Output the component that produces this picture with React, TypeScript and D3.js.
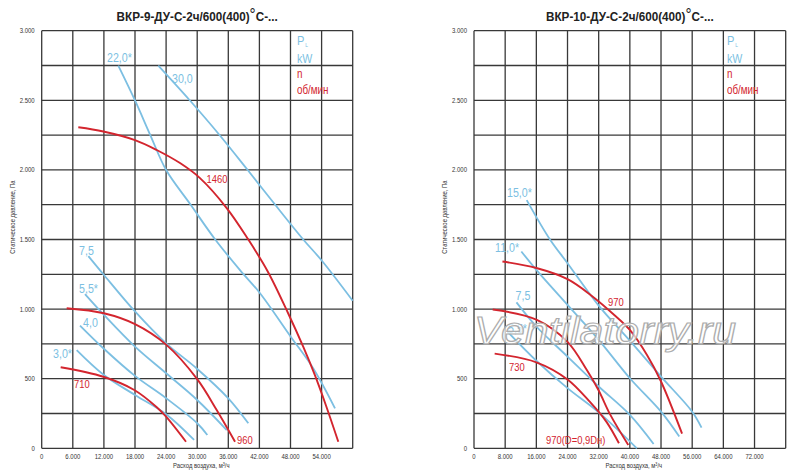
import React from 'react';
import * as d3 from 'd3';

type Pt = [number, number];

// ---------- shared axis data ----------
const yTicks = [0, 500, 1000, 1500, 2000, 2500, 3000];
const yGridStep = 250;
const yMax = 3000;

// ---------- left chart: ВКР-9 ----------
const leftTitle = 'ВКР-9-ДУ-С-2ч/600(400)';
const leftXMax = 60000;
const leftXTicks = [0, 6000, 12000, 18000, 24000, 30000, 36000, 42000, 48000, 54000];
const leftXGridStep = 6000;

const leftP22: Pt[] = [[14779, 2749], [18000, 2499], [20991, 2247], [23981, 2001], [28708, 1751], [33435, 1502], [38258, 1280], [42117, 1114], [48040, 802], [52343, 577], [56587, 287]];
const leftP30: Pt[] = [[22496, 2749], [28515, 2502], [34303, 2251], [39705, 2001], [45010, 1751], [50413, 1502], [54020, 1349], [60000, 1060]];
const leftP75: Pt[] = [[9000, 1381], [12020, 1245], [18000, 983], [24000, 754], [30020, 570], [36000, 359], [39860, 180]];
const leftP55: Pt[] = [[8350, 1108], [12020, 958], [18000, 730], [24000, 539], [30000, 347], [35700, 131]];
const leftP40: Pt[] = [[7390, 882], [12000, 715], [18000, 520], [24000, 360], [30000, 180], [31950, 96]];
const leftP30s: Pt[] = [[6750, 706], [12000, 527], [18000, 383], [24000, 245], [29400, 60]];
const leftN1460: Pt[] = [[7061, 2306], [11885, 2276], [18000, 2214], [22187, 2143], [26682, 2049], [30541, 1941], [35692, 1726], [39802, 1503], [43660, 1267], [47519, 972], [50471, 728], [52688, 527], [54810, 311], [57222, 47]];
const leftN960: Pt[] = [[4820, 1006], [12000, 970], [18000, 892], [24000, 745], [30000, 497], [33760, 275], [37300, 47]];
const leftN710: Pt[] = [[3660, 582], [11880, 514], [17865, 419], [22200, 295], [24000, 227], [27840, 47]];

const leftBlue = [leftP22, leftP30, leftP75, leftP55, leftP40, leftP30s];
const leftRed = [leftN1460, leftN960, leftN710];

const leftBlueLabels = ['22,0*', '30,0', '7,5', '5,5*', '4,0', '3,0*'];
const leftBlueLabelAt: Pt[] = [[12600, 2775], [25140, 2625], [7200, 1389], [7200, 1118], [7970, 871], [2180, 649]];
const leftRedLabels = ['1460', '960', '710'];
const leftRedLabelAt: Pt[] = [[31800, 1906], [37680, 31], [6230, 433]];

// ---------- right chart: ВКР-10 ----------
const rightTitle = 'ВКР-10-ДУ-С-2ч/600(400)';
const rightXMax = 80000;
const rightXTicks = [0, 8000, 16000, 24000, 32000, 40000, 48000, 56000, 64000, 72000];
const rightXGridStep = 8000;

const rightP15: Pt[] = [[13530, 1783], [19500, 1500], [24000, 1330], [32000, 1025], [40000, 773], [48000, 515], [56000, 263], [58400, 148]];
const rightP11: Pt[] = [[12150, 1414], [16000, 1282], [24000, 1030], [32000, 779], [40000, 503], [48000, 263], [52680, 84]];
const rightP75: Pt[] = [[10900, 1048], [16000, 875], [24000, 659], [32000, 444], [40000, 240], [46100, 31]];
const rightP55: Pt[] = [[8600, 838], [16000, 629], [24000, 432], [32000, 258], [41800, 0]];
const rightN970: Pt[] = [[7300, 1342], [16000, 1295], [24000, 1215], [30000, 1100], [36000, 958], [40000, 850], [44400, 670], [48000, 480], [53400, 105]];
const rightN970D: Pt[] = [[4800, 997], [16000, 925], [24000, 765], [29000, 560], [32000, 415], [35000, 240], [39600, 24]];
const rightN730: Pt[] = [[5300, 680], [16000, 618], [24000, 495], [29700, 335], [34000, 190], [37200, 36]];

const rightBlue = [rightP15, rightP11, rightP75, rightP55];
const rightRed = [rightN970, rightN970D, rightN730];

const rightBlueLabels = ['15,0*', '11,0*', '7,5', '5,5*'];
const rightBlueLabelAt: Pt[] = [[8470, 1805], [5390, 1407], [10650, 1065], [8730, 828]];
const rightRedLabels = ['970', '970(D=0,9Dн)', '730'];
const rightRedLabelAt: Pt[] = [[34390, 1022], [18480, 31], [8980, 555]];

// ---------- styling ----------
const BLUE = '#7cbfe2';
const RED = '#d3252e';
const GRID = '#383838';
const SANS = "'Liberation Sans', Arial, sans-serif";
const NX = 0.82; // narrow-face horizontal scale

const fmt = d3.formatLocale({ decimal: ',', thousands: '.', grouping: [3], currency: ['', ''] }).format(',');

function NText(props: any) {
  const { x, y, sx = NX, rot = 0, children, ...rest } = props;
  return (
    <text
      transform={`translate(${x},${y})${rot ? ` rotate(${rot})` : ''} scale(${sx},1)`}
      fontFamily={SANS}
      {...rest}
    >
      {children}
    </text>
  );
}

interface ChartProps {
  title: string;
  left: number;
  right: number;
  xMax: number;
  xTicks: number[];
  xStep: number;
  blue: Pt[][];
  red: Pt[][];
  blueLabels: string[];
  blueLabelAt: Pt[];
  redLabels: string[];
  redLabelAt: Pt[];
  legendX: number;
  watermark?: boolean;
}

const TOP = 30.7;
const BOTTOM = 448.3;

function Chart(p: ChartProps) {
  const x = d3.scaleLinear().domain([0, p.xMax]).range([p.left, p.right]);
  const y = d3.scaleLinear().domain([0, yMax]).range([BOTTOM, TOP]);
  const line = d3
    .line<Pt>()
    .x((d) => x(d[0]))
    .y((d) => y(d[1]))
    .curve(d3.curveCatmullRom.alpha(0.5));
  const xGrid = d3.range(0, p.xMax + 1, p.xStep);
  const yGrid = d3.range(0, yMax + 1, yGridStep);
  const cx = (p.left + p.right) / 2;
  return (
    <g>
      <NText x={cx} y={21} sx={0.9} textAnchor="middle" fontWeight="bold" fontSize={13} fill="#222">
        {p.title}
        <tspan fontSize={17} dy={-1} fontWeight="normal">°</tspan>
        <tspan dy={1}>С-...</tspan>
      </NText>
      {/* grid */}
      {xGrid.map((v) => (
        <line key={'gx' + v} x1={x(v)} x2={x(v)} y1={TOP} y2={BOTTOM} stroke={GRID} strokeWidth={1.3} />
      ))}
      {yGrid.map((v) => (
        <line key={'gy' + v} x1={p.left} x2={p.right} y1={y(v)} y2={y(v)} stroke={GRID} strokeWidth={1.3} />
      ))}
      {/* y tick labels */}
      {yTicks.map((v) => (
        <NText key={'yt' + v} x={p.left - 7} y={y(v) + 2.5} textAnchor="end" fontSize={7.3} fill="#333">
          {fmt(v)}
        </NText>
      ))}
      {/* x tick labels */}
      {p.xTicks.map((v) => (
        <NText key={'xt' + v} x={x(v)} y={458.5} textAnchor="middle" fontSize={7.3} fill="#333">
          {fmt(v)}
        </NText>
      ))}
      <NText x={cx + 4} y={468} textAnchor="middle" fontSize={7.2} fill="#333">
        Расход воздуха, м<tspan fontSize={4.5} dy={-2.5}>3</tspan><tspan dy={2.5}>/ч</tspan>
      </NText>
      <NText x={p.left - 27} y={217} rot={-90} textAnchor="middle" fontSize={7.2} fill="#333">
        Статическое давление, Па
      </NText>
      {/* curves */}
      {p.blue.map((s, i) => (
        <path key={'b' + i} d={line(s) || ''} fill="none" stroke={BLUE} strokeWidth={1.8} />
      ))}
      {p.red.map((s, i) => (
        <path key={'r' + i} d={line(s) || ''} fill="none" stroke={RED} strokeWidth={1.9} />
      ))}
      {p.blueLabels.map((t, i) => (
        <NText key={'bl' + i} x={x(p.blueLabelAt[i][0])} y={y(p.blueLabelAt[i][1])} fontSize={13} fill={BLUE}>
          {t}
        </NText>
      ))}
      {p.redLabels.map((t, i) => (
        <NText key={'rl' + i} x={x(p.redLabelAt[i][0])} y={y(p.redLabelAt[i][1])} fontSize={11.5} fill={RED}>
          {t}
        </NText>
      ))}
      {/* legend */}
      <NText x={p.legendX} y={45} fontSize={13.5} fill={BLUE}>
        P<tspan fontSize={6} dy={2} dx={1}>L</tspan>
      </NText>
      <NText x={p.legendX} y={63} fontSize={13} fill={BLUE}>kW</NText>
      <NText x={p.legendX} y={78} fontSize={12} fill={RED}>n</NText>
      <NText x={p.legendX} y={94} fontSize={12} fill={RED}>об/мин</NText>
      {p.watermark && (
        <text
          x={474}
          y={344}
          fontFamily={SANS}
          fontStyle="italic"
          fontSize={38}
          textLength={262}
          lengthAdjust="spacingAndGlyphs"
          fill="#ffffff"
          fillOpacity={0.7}
          stroke="#acacac"
          strokeWidth={1.2}
        >
          Ventilatorry.ru
        </text>
      )}
    </g>
  );
}

export default function App() {
  return (
    <svg width={800} height={476} style={{ position: 'absolute', left: 0, top: 0, background: '#fff' }}>
      <rect width={800} height={476} fill="#fff" />
      <Chart
        title={leftTitle}
        left={41.7}
        right={352.7}
        xMax={leftXMax}
        xTicks={leftXTicks}
        xStep={leftXGridStep}
        blue={leftBlue}
        red={leftRed}
        blueLabels={leftBlueLabels}
        blueLabelAt={leftBlueLabelAt}
        redLabels={leftRedLabels}
        redLabelAt={leftRedLabelAt}
        legendX={297}
      />
      <Chart
        title={rightTitle}
        left={474}
        right={785.7}
        xMax={rightXMax}
        xTicks={rightXTicks}
        xStep={rightXGridStep}
        blue={rightBlue}
        red={rightRed}
        blueLabels={rightBlueLabels}
        blueLabelAt={rightBlueLabelAt}
        redLabels={rightRedLabels}
        redLabelAt={rightRedLabelAt}
        legendX={727}
        watermark
      />
    </svg>
  );
}
